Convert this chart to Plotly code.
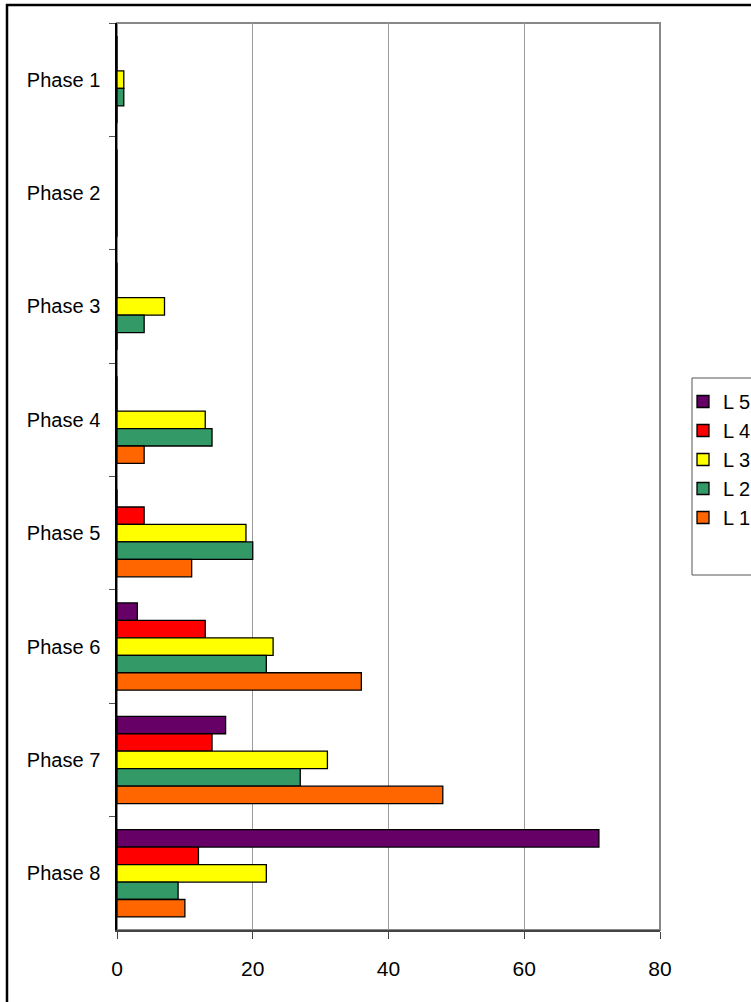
import plotly.graph_objects as go

phases = ["Phase 1", "Phase 2", "Phase 3", "Phase 4", "Phase 5", "Phase 6", "Phase 7", "Phase 8"]
series_names = ["L 5", "L 4", "L 3", "L 2", "L 1"]
L5 = [0, 0, 0, 0, 0, 3, 16, 71]
L4 = [0, 0, 0, 0, 4, 13, 14, 12]
L3 = [1, 0, 7, 13, 19, 23, 31, 22]
L2 = [1, 0, 4, 14, 20, 22, 27, 9]
L1 = [0, 0, 0, 4, 11, 36, 48, 10]
series_values = [L5, L4, L3, L2, L1]
colors = ["#660066", "#FF0000", "#FFFF00", "#339966", "#FF6600"]
x_ticks = [0, 20, 40, 60, 80]

W, H = 751, 1002
L, R, T, B = 117, 91, 23, 72
pw, ph = W - L - R, H - T - B

def px_x(p):
    return (p - L) / pw

def px_y(p):
    return (H - B - p) / ph

fig = go.Figure()
for name, vals, col in zip(series_names, series_values, colors):
    fig.add_trace(go.Bar(
        y=phases, x=vals, name=name, orientation="h",
        marker=dict(color=col, line=dict(color="black", width=1.3)),
    ))

font = "Liberation Sans, Arial, sans-serif"
fig.update_layout(
    width=W, height=H,
    margin=dict(l=L, r=R, t=T, b=B, autoexpand=False),
    paper_bgcolor="white", plot_bgcolor="white",
    barmode="group", bargap=0.23, bargroupgap=0,
    font=dict(family=font, size=20, color="black"),
    showlegend=True,
    legend=dict(
        x=px_x(683), y=px_y(382), xanchor="left", yanchor="top",
        borderwidth=0, bgcolor="rgba(0,0,0,0)",
        font=dict(size=20, family=font), tracegroupgap=0,
        itemwidth=30, traceorder="normal",
    ),
    xaxis=dict(
        range=[0, 80], tickvals=x_ticks, ticktext=[str(v) for v in x_ticks],
        showgrid=True, gridcolor="#9a9a9a", gridwidth=1,
        zeroline=False,
        showline=True, linecolor="#444444", linewidth=1.5,
        ticks="outside", ticklen=7, tickcolor="#444444",
        ticklabelstandoff=12,
        tickfont=dict(size=21),
    ),
    yaxis=dict(
        type="category", categoryorder="array", categoryarray=phases,
        autorange="reversed",
        showline=True, linecolor="black", linewidth=1.5,
        ticks="outside", ticklen=6, tickson="boundaries", tickcolor="#555555",
        ticklabelstandoff=11,
        showgrid=False, zeroline=False,
        tickfont=dict(size=20),
    ),
    shapes=[
        # plot area border (top/right)
        dict(type="rect", xref="paper", yref="paper", x0=0, x1=1, y0=0, y1=1,
             line=dict(color="#888888", width=2), layer="below"),
        # legend box
        dict(type="rect", xref="paper", yref="paper",
             x0=px_x(692), x1=px_x(790), y0=px_y(575), y1=px_y(378),
             line=dict(color="#555555", width=1), layer="below"),
        # outer chart frame (cut off at right/bottom)
        dict(type="rect", xref="paper", yref="paper",
             x0=px_x(7), x1=px_x(790), y0=px_y(1030), y1=px_y(5),
             line=dict(color="black", width=2.5), layer="above"),
    ],
)

fig.write_html("out.html", config={"displayModeBar": False},
               post_script="document.body.style.margin='0px';")
